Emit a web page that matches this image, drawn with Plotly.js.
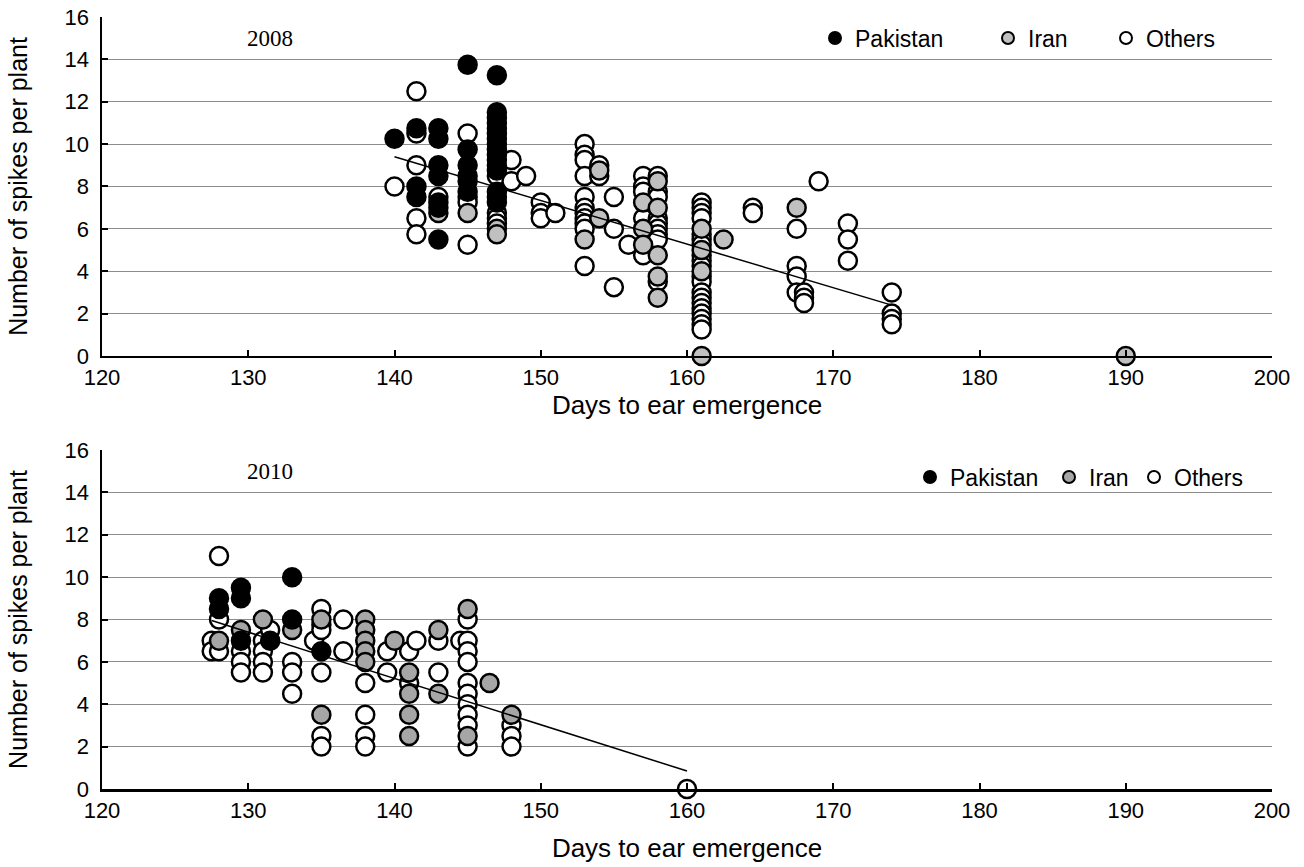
<!DOCTYPE html>
<html>
<head>
<meta charset="utf-8">
<script src="https://cdn.plot.ly/plotly-3.0.1.min.js"></script>
<style>html,body{margin:0;padding:0;background:#fff}#chart{width:1304px;height:867px}</style>
</head>
<body>
<div id="chart"></div>
<script>
// ---------- 2008 ----------
const pak2008Days = [140, 141.5,141.5,141.5, 143,143,143,143,143,143,143,
  145,145,145,145,145,145,
  147,147,147,147,147,147,147,147,147,147,147,147,147,147,147,147];
const pak2008Spikes = [10.25, 10.75,8.0,7.5, 10.75,10.25,9.0,8.5,7.25,7.0,5.5,
  13.75,9.75,9.0,8.5,8.25,7.75,
  13.25,11.5,11.25,11.0,10.75,10.5,10.25,10.0,9.75,9.5,9.25,9.0,8.75,7.75,7.5,7.25];

const iran2008Days = [143, 145, 147,147, 153, 154,154, 157,157,157, 158,158,158,158,158,
  161,161,161,161, 162.5, 167.5, 190];
const iran2008Spikes = [6.75, 6.75, 6.0,5.75, 5.5, 8.75,6.5, 7.25,6.0,5.25, 8.25,7.0,4.75,3.75,2.75,
  6.0,5.0,4.0,0, 5.5, 7.0, 0];

const oth2008Days = [140, 141.5,141.5,141.5,141.5,141.5, 143, 145,145,145,145, 147,147,147,147,
  148,148, 149, 150,150,150, 151,
  153,153,153,153,153,153,153,153,153,153,153,
  154,154, 155,155,155, 156, 157,157,157,157,157,
  158,158,158,158,158,158,158,158,158,
  161,161,161,161,161,161,161,161,161,161,161,161,161,161,161,161,161,161,161,161,
  164.5,164.5, 167.5,167.5,167.5,167.5, 168,168,168, 169, 171,171,171, 174,174,174,174];
const oth2008Spikes = [8.0, 12.5,10.5,9.0,6.5,5.75, 7.5, 10.5,7.5,7.25,5.25, 8.5,6.75,6.5,6.25,
  9.25,8.25, 8.5, 7.25,6.75,6.5, 6.75,
  10.0,9.5,9.25,8.5,7.5,7.0,6.75,6.5,6.25,6.0,4.25,
  9.0,8.5, 7.5,6.0,3.25, 5.25, 8.5,8.0,7.75,6.5,4.75,
  8.5,7.75,7.5,6.5,6.25,6.0,5.75,5.5,3.5,
  7.25,7.0,6.75,6.5,5.75,5.5,5.25,4.75,4.5,4.25,3.75,3.5,3.0,2.75,2.5,2.25,2.0,1.75,1.5,1.25,
  7.0,6.75, 6.0,4.25,3.75,3.0, 3.0,2.75,2.5, 8.25, 6.25,5.5,4.5, 3.0,2.0,1.75,1.5];

const trend2008Days = [140, 174];
const trend2008Spikes = [9.4, 2.4];

// ---------- 2010 ----------
const pak2010Days = [128,128, 129.5,129.5,129.5, 131.5, 133,133, 135];
const pak2010Spikes = [9.0,8.5, 9.5,9.0,7.0, 7.0, 10.0,8.0, 6.5];

const iran2010Days = [128, 129.5, 131, 133, 135,135, 138,138,138,138,138, 140,
  141,141,141,141, 143,143, 145,145, 146.5, 148];
const iran2010Spikes = [7.0, 7.5, 8.0, 7.5, 8.0,3.5, 8.0,7.5,7.0,6.5,6.0, 7.0,
  5.5,4.5,3.5,2.5, 7.5,4.5, 8.5,2.5, 5.0, 3.5];

const oth2010Days = [127.5,127.5, 128,128,128, 129.5,129.5,129.5, 131,131,131,131, 131.5,
  133,133,133, 134.5, 135,135,135,135,135,135, 136.5,136.5, 138,138,138,138,
  139.5,139.5, 141,141, 141.5, 143,143, 144.5,
  145,145,145,145,145,145,145,145,145,145, 148,148,148, 160];
const oth2010Spikes = [7.0,6.5, 11.0,8.0,6.5, 6.5,6.0,5.5, 7.0,6.5,6.0,5.5, 7.5,
  6.0,5.5,4.5, 7.0, 8.5,7.75,7.5,5.5,2.5,2.0, 8.0,6.5, 5.0,3.5,2.5,2.0,
  6.5,5.5, 6.5,5.0, 7.0, 7.0,5.5, 7.0,
  8.0,7.0,6.5,6.0,5.0,4.5,4.0,3.5,3.0,2.0, 3.0,2.5,2.0, 0];

const trend2010Days = [127.5, 160];
const trend2010Spikes = [7.95, 0.85];

const seriesNames = ['Pakistan', 'Iran', 'Others'];
const panelLabels = ['2008', '2010'];
const xTicks = [120,130,140,150,160,170,180,190,200];
const yTicks = [0,2,4,6,8,10,12,14,16];

const FONT = 'Liberation Sans, Arial, sans-serif';
const SERIF = 'Liberation Serif, Times New Roman, serif';
const MS = 18, MLW = 2.5;
function pts(x, y, name, fill, xa, ya, leg) {
  return {type:'scatter', mode:'markers', x:x, y:y, name:name, xaxis:xa, yaxis:ya,
    legend: leg, cliponaxis:false, hoverinfo:'x+y',
    marker:{size:MS, color:fill, line:{color:'#000', width:MLW}}};
}
function trend(x, y, xa, ya) {
  return {type:'scatter', mode:'lines', x:x, y:y, xaxis:xa, yaxis:ya, showlegend:false,
    line:{color:'#000', width:1.5}, hoverinfo:'skip'};
}
const data = [
  pts(oth2008Days, oth2008Spikes, seriesNames[2], '#ffffff', 'x', 'y', 'legend3'),
  pts(iran2008Days, iran2008Spikes, seriesNames[1], '#c0c0c0', 'x', 'y', 'legend2'),
  pts(pak2008Days, pak2008Spikes, seriesNames[0], '#000000', 'x', 'y', 'legend'),
  trend(trend2008Days, trend2008Spikes, 'x', 'y'),
  pts(oth2010Days, oth2010Spikes, seriesNames[2], '#ffffff', 'x2', 'y2', 'legend6'),
  pts(iran2010Days, iran2010Spikes, seriesNames[1], '#a6a6a6', 'x2', 'y2', 'legend5'),
  pts(pak2010Days, pak2010Spikes, seriesNames[0], '#000000', 'x2', 'y2', 'legend4'),
  trend(trend2010Days, trend2010Spikes, 'x2', 'y2')
];

const ML = 102, MT = 17, MB = 78, W = 1304, H = 867, MR = 32;
const PW = W - ML - MR, PH = H - MT - MB;

function xax(anchor, standoff) {
  return {anchor:anchor, range:[120,200], tickvals:xTicks, ticks:'inside', ticklen:6, tickwidth:2,
    tickcolor:'#000', showline:true, linecolor:'#000', linewidth:2.5, showgrid:false, zeroline:false,
    tickfont:{family:FONT, size:22, color:'#000'}, automargin:false,
    title:{text:'Days to ear emergence', font:{family:FONT, size:26, color:'#000'}, standoff:standoff}};
}
function yax(anchor, domain) {
  return {anchor:anchor, domain:domain, range:[0,16], tickvals:yTicks, ticks:'inside', ticklen:6, tickwidth:2,
    tickcolor:'#000', showline:true, linecolor:'#000', linewidth:2.5, showgrid:true, gridcolor:'#8c8c8c',
    gridwidth:1.2, zeroline:false, ticklabelstandoff:6, automargin:false,
    tickfont:{family:FONT, size:22, color:'#000'},
    title:{text:'Number of spikes per plant', font:{family:FONT, size:25, color:'#000'}, standoff:30}};
}
function leg(xpx, ypx) {
  return {xref:'paper', yref:'paper', x:(xpx-ML)/PW, y:(H-MB-ypx)/PH, xanchor:'left', yanchor:'middle',
    orientation:'h', itemsizing:'constant', bgcolor:'rgba(0,0,0,0)', borderwidth:0,
    font:{family:FONT, size:23, color:'#000'}};
}
const layout = {
  width:W, height:H, paper_bgcolor:'#fff', plot_bgcolor:'#fff',
  margin:{l:ML, r:MR, t:MT, b:MB},
  showlegend:true,
  xaxis: xax('y', 0),
  yaxis: yax('x', [0.5609, 1]),
  xaxis2: xax('y2', 17),
  yaxis2: yax('x2', [0, 0.4391]),
  legend: leg(815, 38), legend2: leg(988, 38), legend3: leg(1106, 38),
  legend4: leg(910, 477), legend5: leg(1049, 477), legend6: leg(1134, 477),
  annotations: [
    {text:panelLabels[0], xref:'x domain', yref:'y domain', x:0.1435, y:0.936, xanchor:'center', yanchor:'middle',
     showarrow:false, font:{family:SERIF, size:23, color:'#000'}},
    {text:panelLabels[1], xref:'x2 domain', yref:'y2 domain', x:0.1435, y:0.936, xanchor:'center', yanchor:'middle',
     showarrow:false, font:{family:SERIF, size:23, color:'#000'}}
  ]
};
Plotly.newPlot('chart', data, layout, {displayModeBar:false, staticPlot:true});
</script>
</body>
</html>
